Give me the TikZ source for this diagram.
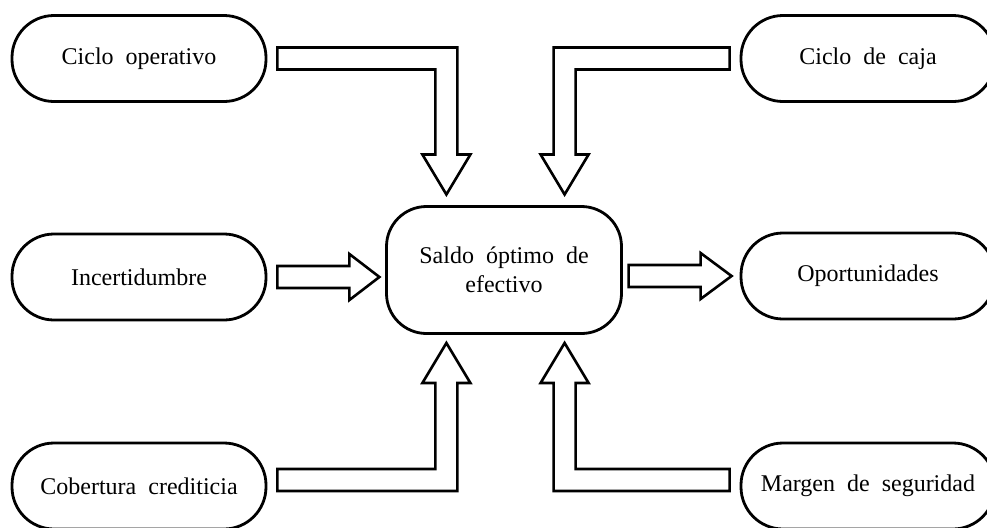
\documentclass[tikz,border=0pt]{standalone}
\usepackage{fontspec}
\setmainfont{Liberation Serif}
\tikzset{
  pill/.style={draw, line width=1.4pt, rounded corners=21pt, minimum width=127pt,
    minimum height=43pt, font=\fontsize{12}{14}\selectfont},
  centro/.style={draw, line width=1.4pt, rounded corners=20pt, minimum width=117.5pt,
    minimum height=63.5pt, align=center, font=\fontsize{12}{14.5}\selectfont},
  hueco/.style={draw, line width=1.3pt, line join=miter, fill=white}
}
\begin{document}
\begin{tikzpicture}[x=0.5pt, y=-0.5pt]
  \useasboundingbox (0,0) rectangle (987,527);
  % cajas
  \node [pill] (cop) at (139,58.5) {Ciclo\ \ operativo};
  \node [pill] (inc) at (139,277) {Incertidumbre};
  \node [pill] (cob) at (139,486) {Cobertura\ \ crediticia};
  \node [pill] (caja) at (868,58.5) {Ciclo\ \ de\ \ caja};
  \node [pill] (oport) at (868,276) {Oportunidades};
  \node [pill] (marg) at (868,486) {Margen\ \ de\ \ seguridad};
  \node [centro] (saldo) at (504,270) {Saldo\ \ óptimo\ \ de\\efectivo};
  % flechas de arriba
  \draw [hueco] ([shift={(10,-11)}]cop.east) --++ (180,0) --++ (0,107) --++ (13,0)
    --++ (-24,40) --++ (-24,-40) --++ (13,0) --++ (0,-85) --++ (-158,0) -- cycle;
  \draw [hueco] ([shift={(-10,-11)}]caja.west) --++ (-176,0) --++ (0,107) --++ (-13,0)
    --++ (24,40) --++ (24,-40) --++ (-13,0) --++ (0,-85) --++ (154,0) -- cycle;
  % flechas del medio
  \draw [hueco] ([shift={(10,-11)}]inc.east) --++ (72,0) --++ (0,-12) --++ (30,23)
    --++ (-30,23) --++ (0,-12) --++ (-72,0) -- cycle;
  \draw [hueco] ([shift={(-111,-11)}]oport.west) --++ (72,0) --++ (0,-12) --++ (31,23)
    --++ (-31,23) --++ (0,-12) --++ (-72,0) -- cycle;
  % flechas de abajo
  \draw [hueco] ([shift={(10,-17)}]cob.east) --++ (158,0) --++ (0,-86) --++ (-13,0)
    --++ (24,-40) --++ (24,40) --++ (-13,0) --++ (0,108) --++ (-180,0) -- cycle;
  \draw [hueco] ([shift={(-10,-17)}]marg.west) --++ (-154,0) --++ (0,-86) --++ (13,0)
    --++ (-24,-40) --++ (-24,40) --++ (13,0) --++ (0,108) --++ (176,0) -- cycle;
\end{tikzpicture}
\end{document}
